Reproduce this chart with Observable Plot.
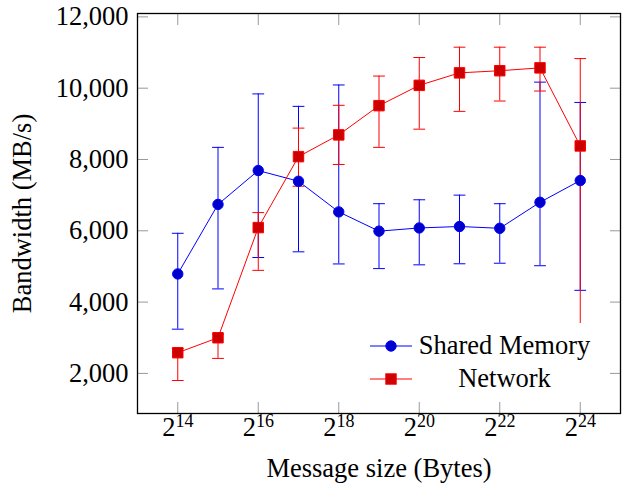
<!DOCTYPE html>
<html>
<head>
<meta charset="utf-8">
<script src="https://cdn.jsdelivr.net/npm/d3@7"></script>
<script src="https://cdn.jsdelivr.net/npm/@observablehq/plot@0.6"></script>
<style>
  body { margin: 0; background: #fff; }
  #wrap { position: relative; width: 630px; height: 489px; font-family: "Liberation Serif", "Times New Roman", serif; }
  #wrap svg text { font-family: "Liberation Serif", "Times New Roman", serif; }
  #legend { position: absolute; left: 362px; top: 323px; }
</style>
</head>
<body>
<div id="wrap"></div>
<script>
// Message size exponents (2^e bytes)
const exponents = [14, 15, 16, 17, 18, 19, 20, 21, 22, 23, 24];

// Shared Memory bandwidth (MB/s) with error bar bounds
const sharedMemory   = [4790, 6740, 7690, 7390, 6530, 5990, 6080, 6120, 6070, 6800, 7410];
const sharedMemoryLo = [3240, 4370, 5250, 5410, 5070, 4940, 5045, 5075, 5090, 5020, 4330];
const sharedMemoryHi = [5930, 8340, 9840, 9490, 10090, 6760, 6870, 7000, 6760, 10170, 9600];

// Network bandwidth (MB/s) with error bar bounds
const network   = [2580, 3000, 6090, 8080, 8690, 9510, 10080, 10430, 10490, 10570, 8380];
const networkLo = [1800, 2420, 4890, 7250, 7860, 8340, 8850, 9350, 9640, 9920, 3200];
const networkHi = [2700, 3100, 6510, 8880, 9520, 10340, 10860, 11150, 11150, 11150, 10830];

// Axis ticks
const xTicks = [14, 16, 18, 20, 22, 24];
const yTicks = [2000, 4000, 6000, 8000, 10000, 12000];

const seriesNames = ["Shared Memory", "Network"];
const xLabel = "Message size (Bytes)";
const yLabel = "Bandwidth (MB/s)";

const sm = exponents.map((e, i) => ({e, v: sharedMemory[i], lo: sharedMemoryLo[i], hi: sharedMemoryHi[i]}));
const nw = exponents.map((e, i) => ({e, v: network[i], lo: networkLo[i], hi: networkHi[i]}));

const BLUE = "#0000ff", BLUE_FILL = "#0000cc";
const RED = "#ff0000", RED_FILL = "#cc0000";
const FS = 26.5;
const FONT = '"Liberation Serif", "Times New Roman", serif';

const capShape = { draw(context, l) { context.moveTo(0, 0); context.lineTo(0, -l); } };

function errorMarks(data, color) {
  return [
    Plot.ruleX(data, {x: "e", y1: "lo", y2: "hi", stroke: color, strokeWidth: 1}),
    Plot.vector(data, {x: "e", y: "lo", length: 11, rotate: 90, anchor: "middle", shape: capShape, stroke: color, strokeWidth: 1}),
    Plot.vector(data, {x: "e", y: "hi", length: 11, rotate: 90, anchor: "middle", shape: capShape, stroke: color, strokeWidth: 1})
  ];
}

const chart = Plot.plot({
  width: 630,
  height: 489,
  marginTop: 13,
  marginRight: 10,
  marginBottom: 76,
  marginLeft: 137,
  style: {fontFamily: FONT, fontSize: FS + "px", background: "#fff", color: "#000"},
  x: {type: "linear", domain: [13, 25]},
  y: {type: "linear", domain: [875, 12095]},
  marks: [
    Plot.line(sm, {x: "e", y: "v", stroke: BLUE, strokeWidth: 1}),
    ...errorMarks(sm, BLUE),
    Plot.line(nw, {x: "e", y: "v", stroke: RED, strokeWidth: 1}),
    ...errorMarks(nw, RED),
    Plot.dot(sm, {x: "e", y: "v", r: 5.2, fill: BLUE_FILL, stroke: BLUE, strokeWidth: 1}),
    Plot.dot(nw, {x: "e", y: "v", symbol: "square", r: 5.9, fill: RED_FILL, stroke: RED, strokeWidth: 1}),
    // inward ticks on all four sides
    Plot.axisX({anchor: "bottom", ticks: xTicks, tickSize: 11, dy: -11, stroke: "#999", fill: "none", label: null}),
    Plot.axisX({anchor: "top", ticks: xTicks, tickSize: 11, dy: 11, stroke: "#999", fill: "none", label: null}),
    Plot.axisY({anchor: "left", ticks: yTicks, tickSize: 11, dx: 11, stroke: "#999", fill: "none", label: null}),
    Plot.axisY({anchor: "right", ticks: yTicks, tickSize: 11, dx: -11, stroke: "#999", fill: "none", label: null}),
    // labels
    Plot.axisX({anchor: "bottom", ticks: xTicks, tickSize: 0, tickPadding: 4, fontSize: FS,
      tickFormat: d => "2^" + d, label: xLabel, labelAnchor: "center", labelArrow: "none", labelOffset: 63}),
    Plot.axisY({anchor: "left", ticks: yTicks, tickSize: 0, tickPadding: 9, fontSize: FS,
      tickFormat: d3.format(","), label: yLabel, labelAnchor: "center", labelArrow: "none", labelOffset: 125}),
    Plot.frame({stroke: "#000", strokeWidth: 1.3})
  ]
});

// superscript exponents in x tick labels
const NS = "http://www.w3.org/2000/svg";
d3.select(chart).selectAll('g[aria-label="x-axis tick label"] text').each(function () {
  const [b, e] = this.textContent.split("^");
  if (e === undefined) return;
  this.textContent = b;
  const ts = document.createElementNS(NS, "tspan");
  ts.setAttribute("dy", "-9");
  ts.setAttribute("font-size", "18px");
  ts.textContent = e;
  this.appendChild(ts);
});

document.getElementById("wrap").appendChild(chart);

// legend (white box drawn over the plot)
const leg = d3.select("#wrap").append("svg").attr("id", "legend")
  .attr("width", 240).attr("height", 73);
leg.append("rect").attr("width", 240).attr("height", 73).attr("fill", "#fff");
const rows = [
  {name: seriesNames[0], y: 23, color: BLUE, fill: BLUE_FILL, sym: "circle"},
  {name: seriesNames[1], y: 56, color: RED, fill: RED_FILL, sym: "square"}
];
rows.forEach(r => {
  leg.append("line").attr("x1", 8).attr("x2", 50).attr("y1", r.y).attr("y2", r.y)
    .attr("stroke", r.color).attr("stroke-width", 1);
  if (r.sym === "circle") {
    leg.append("circle").attr("cx", 29).attr("cy", r.y).attr("r", 5.2)
      .attr("fill", r.fill).attr("stroke", r.color);
  } else {
    leg.append("rect").attr("x", 29 - 5.2).attr("y", r.y - 5.2).attr("width", 10.4).attr("height", 10.4)
      .attr("fill", r.fill).attr("stroke", r.color);
  }
  leg.append("text").attr("x", 142.5).attr("y", r.y + 7.5).attr("text-anchor", "middle")
    .attr("font-size", FS + "px").attr("font-family", FONT)
    .attr("fill", "#000").text(r.name);
});
</script>
</body>
</html>
